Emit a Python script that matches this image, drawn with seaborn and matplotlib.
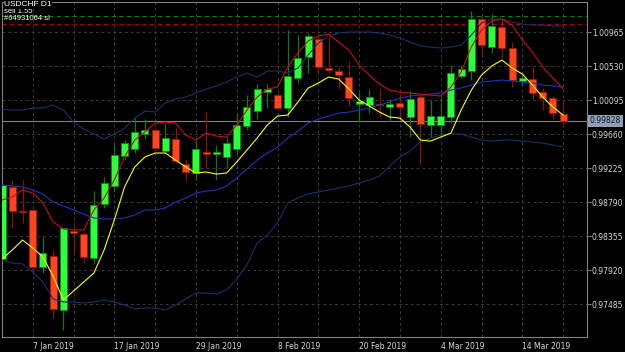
import matplotlib
matplotlib.use('Agg')
import matplotlib.pyplot as plt
import numpy as np
import pandas as pd
import seaborn as sns

# daily bars, 2 Jan 2019 .. 20 Mar 2019
dates = pd.bdate_range('2019-01-02', '2019-03-20')

open_ = [0.98061, 0.98982, 0.98675, 0.98688, 0.97959, 0.98099, 0.97408, 0.98419, 0.98381, 0.98074,
         0.98765, 0.98995, 0.99378, 0.99468, 0.99660, 0.99711, 0.99442, 0.99596, 0.99276, 0.99161,
         0.99429, 0.99404, 0.99366, 0.99468, 0.99762, 0.99954, 1.00197, 1.00159, 0.99992, 1.00376,
         1.00645, 1.00875, 1.00504, 1.00466, 1.00389, 1.00043, 1.00031, 1.00050, 1.00005, 1.00056,
         0.99877, 1.00133, 0.99775, 0.99775, 0.99877, 1.00402, 1.00466, 1.01131, 1.00773, 1.01029,
         1.00760, 1.00338, 1.00363, 1.00197, 1.00120, 0.99915]
high = [0.99033, 0.99072, 0.99072, 0.98701, 0.98342, 0.98176, 0.98458, 0.98535, 0.98406, 0.98931,
        0.99110, 0.99532, 0.99583, 0.99864, 0.99851, 0.99736, 0.99787, 0.99736, 0.99340, 0.99583,
        0.99941, 0.99519, 0.99621, 0.99928, 1.00159, 1.00299, 1.00299, 1.00184, 1.00990, 1.00926,
        1.00952, 1.00926, 1.00901, 1.00517, 1.00594, 1.00197, 1.00235, 1.00235, 1.00107, 1.00171,
        1.00210, 1.00159, 1.00095, 1.00133, 1.00542, 1.00542, 1.01233, 1.01182, 1.01195, 1.01131,
        1.00837, 1.00453, 1.00517, 1.00248, 1.00146, 1.00095]
low = [0.98023, 0.98458, 0.98522, 0.97869, 0.97882, 0.97306, 0.97152, 0.98151, 0.98010, 0.98010,
       0.98714, 0.98918, 0.99327, 0.99417, 0.99596, 0.99455, 0.99417, 0.99289, 0.99059, 0.99072,
       0.99238, 0.99072, 0.99225, 0.99404, 0.99711, 0.99851, 0.99992, 0.99967, 0.99877, 1.00312,
       1.00440, 1.00414, 1.00440, 1.00235, 1.00018, 0.99813, 0.99928, 0.99877, 0.99826, 0.99864,
       0.99621, 0.99263, 0.99621, 0.99634, 0.99800, 1.00376, 1.00350, 1.00670, 1.00696, 1.00632,
       1.00261, 1.00286, 1.00107, 0.99967, 0.99851, 0.99749]
close = [0.99008, 0.98675, 0.98662, 0.97959, 0.98138, 0.97421, 0.98458, 0.98394, 0.98087, 0.98752,
         0.99033, 0.99391, 0.99544, 0.99685, 0.99711, 0.99481, 0.99608, 0.99314, 0.99174, 0.99468,
         0.99404, 0.99429, 0.99544, 0.99775, 1.00005, 1.00235, 1.00235, 0.99992, 1.00402, 1.00632,
         1.00913, 1.00517, 1.00478, 1.00414, 1.00120, 1.00082, 1.00133, 1.00037, 1.00043, 1.00005,
         1.00107, 0.99787, 0.99890, 0.99890, 1.00440, 1.00491, 1.01131, 1.00798, 1.01041, 1.00760,
         1.00350, 1.00376, 1.00184, 1.00120, 0.99928, 0.99828]

# indicator values
fast_ma = [0.98061, 0.98176, 0.98304, 0.98202, 0.98087, 0.97843, 0.97536, 0.97651, 0.97766, 0.97882,
           0.98176, 0.98560, 0.98982, 0.99238, 0.99366, 0.99417, 0.99417, 0.99327, 0.99238, 0.99161,
           0.99174, 0.99148, 0.99161, 0.99302, 0.99455, 0.99608, 0.99775, 0.99890, 0.99903, 1.00069,
           1.00248, 1.00312, 1.00389, 1.00363, 1.00235, 1.00095, 1.00018, 0.99941, 0.99877, 0.99864,
           0.99749, 0.99583, 0.99570, 0.99621, 0.99672, 0.99967, 1.00222, 1.00414, 1.00530, 1.00606,
           1.00504, 1.00427, 1.00286, 1.00133, 1.00005, 0.99903]
slow_ma = [0.98816, 0.98854, 0.98944, 0.98905, 0.98777, 0.98535, 0.98445, 0.98432, 0.98432, 0.98688,
           0.98841, 0.99072, 0.99366, 0.99583, 0.99685, 0.99800, 0.99813, 0.99800, 0.99647, 0.99583,
           0.99672, 0.99634, 0.99621, 0.99775, 0.99967, 1.00133, 1.00235, 1.00261, 1.00517, 1.00696,
           1.00850, 1.00913, 1.00939, 1.00837, 1.00734, 1.00542, 1.00414, 1.00299, 1.00222, 1.00197,
           1.00184, 1.00171, 1.00159, 1.00146, 1.00261, 1.00453, 1.00773, 1.00990, 1.01106, 1.01131,
           1.01054, 1.00862, 1.00709, 1.00517, 1.00376, 1.00235]
bb_upper = [0.99979, 0.99967, 0.99967, 0.99992, 0.99992, 1.00031, 0.99967, 0.99813, 0.99723, 0.99660,
            0.99596, 0.99660, 0.99736, 0.99864, 0.99954, 0.99941, 1.00056, 1.00107, 1.00133, 1.00184,
            1.00235, 1.00274, 1.00325, 1.00389, 1.00440, 1.00389, 1.00466, 1.00466, 1.00440, 1.00504,
            1.00670, 1.00824, 1.00913, 1.00952, 1.00965, 1.00965, 1.00965, 1.00952, 1.00926, 1.00888,
            1.00837, 1.00786, 1.00773, 1.00760, 1.00773, 1.00798, 1.00926, 1.01080, 1.01131, 1.01131,
            1.01093, 1.01067, 1.01054, 1.01054, 1.01041, 1.01041]
bb_mid = [0.99008, 0.98995, 0.98982, 0.98944, 0.98893, 0.98790, 0.98739, 0.98688, 0.98637, 0.98586,
          0.98573, 0.98573, 0.98586, 0.98624, 0.98688, 0.98688, 0.98714, 0.98790, 0.98841, 0.98905,
          0.98931, 0.98944, 0.98995, 0.99097, 0.99212, 0.99327, 0.99417, 0.99493, 0.99608, 0.99698,
          0.99800, 0.99851, 0.99890, 0.99928, 0.99941, 0.99967, 0.99992, 1.00031, 1.00069, 1.00120,
          1.00146, 1.00159, 1.00171, 1.00184, 1.00222, 1.00248, 1.00286, 1.00325, 1.00338, 1.00350,
          1.00338, 1.00325, 1.00312, 1.00286, 1.00274, 1.00261]
bb_lower = [0.98048, 0.98010, 0.97997, 0.97894, 0.97766, 0.97549, 0.97511, 0.97511, 0.97498, 0.97511,
            0.97536, 0.97511, 0.97472, 0.97421, 0.97434, 0.97434, 0.97408, 0.97472, 0.97549, 0.97626,
            0.97626, 0.97613, 0.97664, 0.97805, 0.97984, 0.98266, 0.98368, 0.98522, 0.98777, 0.98841,
            0.98893, 0.98918, 0.98944, 0.98969, 0.98995, 0.99033, 0.99072, 0.99123, 0.99250, 0.99366,
            0.99442, 0.99557, 0.99608, 0.99647, 0.99660, 0.99660, 0.99621, 0.99583, 0.99570, 0.99583,
            0.99583, 0.99570, 0.99557, 0.99544, 0.99519, 0.99493]

price_ticks = [1.00965, 1.00530, 1.00095, 0.99660, 0.99225, 0.98790, 0.98355, 0.97920, 0.97485]
tp_level = 1.01170
sl_level = 1.01067

df = pd.DataFrame({'i': np.arange(len(dates)), 'open': open_, 'high': high, 'low': low,
                   'close': close, 'fast': fast_ma, 'slow': slow_ma,
                   'up': bb_upper, 'mid': bb_mid, 'lo': bb_lower})

sns.set_theme(style='dark')
plt.rcParams['font.family'] = ['DejaVu Sans']

fig = plt.figure(figsize=(6.25, 3.52), dpi=100, facecolor='black')
ax = fig.add_axes([2 / 625, 15 / 352, 585 / 625, 335 / 352])
ax.set_facecolor('black')

bull = df['close'] >= df['open']
body_col = np.where(bull, '#2cff3c', '#ff4422')
edge_col = np.where(bull, '#0c8a14', '#a01808')
wick_col = np.where(bull, '#0c7a10', '#8a1208')

ax.vlines(df['i'], df['low'], df['high'], colors=wick_col, linewidth=0.9, zorder=2)
ax.bar(df['i'], (df['close'] - df['open']).abs(), bottom=df[['open', 'close']].min(axis=1),
       width=0.68, color=body_col, edgecolor=edge_col, linewidth=0.6, zorder=3)

sns.lineplot(data=df, x='i', y='up', ax=ax, color='#15326a', lw=0.8, zorder=4)
sns.lineplot(data=df, x='i', y='lo', ax=ax, color='#15326a', lw=0.8, zorder=4)
sns.lineplot(data=df, x='i', y='mid', ax=ax, color='#1e34b8', lw=0.8, zorder=4)
sns.lineplot(data=df, x='i', y='slow', ax=ax, color='#c81010', lw=0.8, zorder=5)
sns.lineplot(data=df, x='i', y='fast', ax=ax, color='#ffff00', lw=0.8, zorder=5)

ax.axhline(tp_level, color='#008a00', lw=0.8, ls=(0, (4, 3)), zorder=1)
ax.axhline(sl_level, color='#b00000', lw=0.8, ls=(0, (4, 3)), zorder=1)
ax.axhline(close[-1], color='#808080', lw=0.8, zorder=1)

ax.set_xlim(-0.01, 57.34)
ax.set_ylim(0.97063, 1.01349)

xt = list(range(3, len(dates), 4))
ax.set_xticks(xt)
ax.set_xticklabels([f'{dates[t].day} {dates[t]:%b %Y}' if k % 2 == 0 else '' for k, t in enumerate(xt)],
                   ha='left')
ax.yaxis.tick_right()
ax.set_yticks(price_ticks)
ax.set_yticklabels([f'{p:.5f}' for p in price_ticks])
ax.tick_params(axis='x', color='#808080', labelcolor='#d8d8d8', length=3, width=0.7,
               labelsize=5.5, pad=0.5)
ax.tick_params(axis='y', color='#808080', labelcolor='#d8d8d8', length=3, width=0.7,
               labelsize=5.5, pad=0.5)
ax.grid(True, color='#3a3a3a', linestyle=(0, (3, 3)), linewidth=0.7)
ax.set_axisbelow(True)
ax.set_xlabel('')
ax.set_ylabel('')
for s in ax.spines.values():
    s.set_color('#808080')
    s.set_linewidth(0.8)

ax.annotate(f'{close[-1]:.5f}', xy=(1, close[-1]), xycoords=('axes fraction', 'data'),
            xytext=(2, 0), textcoords='offset points', va='center', ha='left',
            fontsize=5.5, color='#101820',
            bbox=dict(boxstyle='square,pad=0.2', fc='#8ea0b6', ec='none'))

fig.text(4 / 625, 1 - 8 / 352, 'sell 1.55', color='white', fontsize=5.5, va='top',
         family='Liberation Sans')
fig.text(4 / 625, 1 - 1.5 / 352, 'USDCHF D1', color='white', fontsize=6, va='top',
         family='Liberation Sans',
         bbox=dict(boxstyle='square,pad=0.05', fc='black', ec='none'))
fig.text(4 / 625, 1 - 15 / 352, '#64931064 sl', color='white', fontsize=5.5, va='top',
         family='Liberation Sans')

fig.savefig('out.png', dpi=100, facecolor='black')
